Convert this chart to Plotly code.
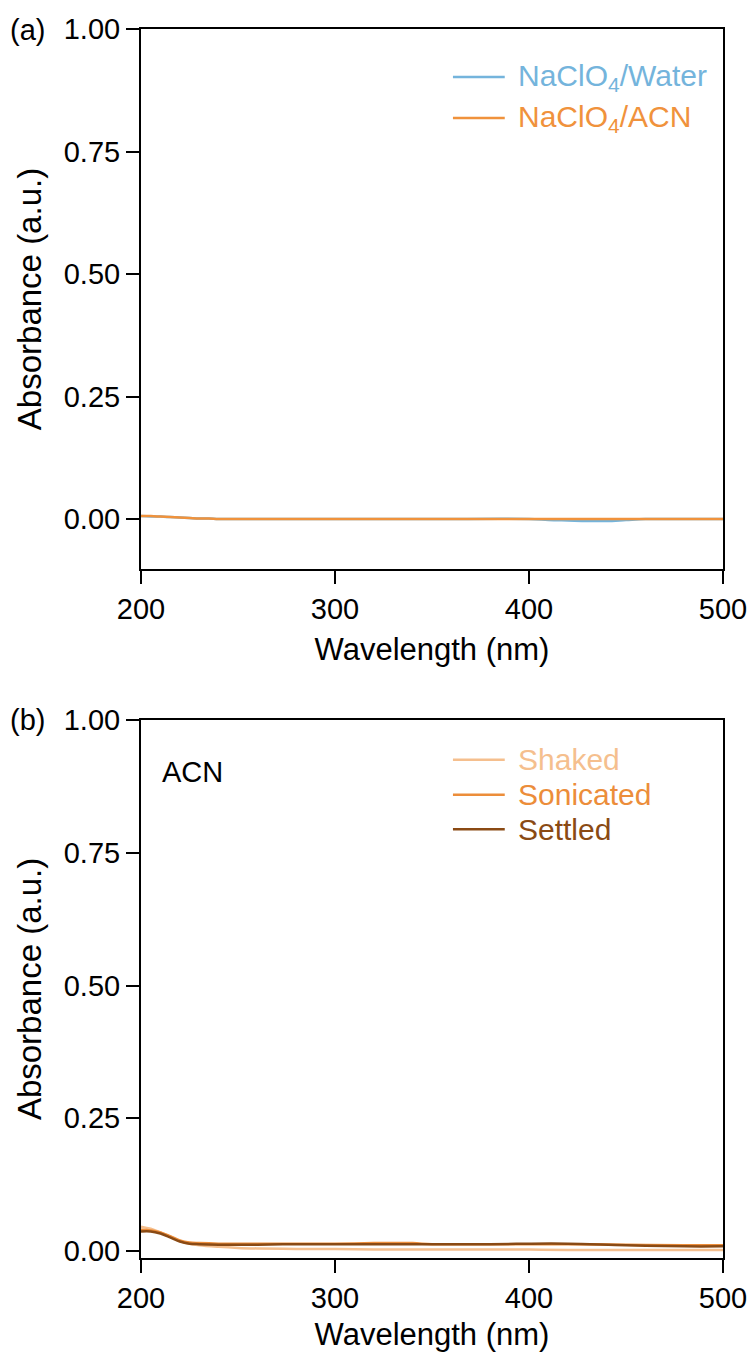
import plotly.graph_objects as go
from plotly.subplots import make_subplots

# ---- data -------------------------------------------------------------
# (a) NaClO4 in water vs acetonitrile
wl_a = [200, 205, 210, 215, 220, 225, 230, 235, 240, 250, 260, 280, 300, 350,
        400, 410, 420, 430, 440, 450, 460, 480, 500]
water = [0.006, 0.005, 0.005, 0.004, 0.003, 0.002, 0.001, 0.001, 0.000, 0.000,
         0.000, 0.000, 0.000, 0.000, 0.000, -0.002, -0.003, -0.004, -0.004,
         -0.002, 0.000, 0.000, 0.000]
acn = [0.006, 0.006, 0.005, 0.004, 0.003, 0.002, 0.001, 0.001, 0.000, 0.000,
       0.000, 0.000, 0.000, 0.000, 0.000, 0.000, 0.000, 0.000, 0.000, 0.000,
       0.000, 0.000, 0.000]

# (b) ACN samples after different treatments
wl_b = [200, 205, 210, 215, 220, 225, 230, 240, 250, 260, 280, 300, 320, 340,
        350, 380, 400, 420, 450, 480, 500]
shaked = [0.046, 0.042, 0.035, 0.027, 0.019, 0.014, 0.011, 0.008, 0.006, 0.005,
          0.004, 0.004, 0.003, 0.003, 0.003, 0.003, 0.003, 0.002, 0.002, 0.002,
          0.002]
sonicated = [0.040, 0.039, 0.035, 0.028, 0.020, 0.016, 0.015, 0.014, 0.014,
             0.014, 0.014, 0.014, 0.015, 0.015, 0.013, 0.013, 0.013, 0.013,
             0.012, 0.011, 0.011]
settled = [0.037, 0.037, 0.033, 0.026, 0.018, 0.014, 0.013, 0.012, 0.012, 0.012,
           0.013, 0.013, 0.013, 0.013, 0.013, 0.013, 0.014, 0.014, 0.011, 0.009,
           0.009]

x_ticks = [200, 300, 400, 500]
y_ticks = [0.00, 0.25, 0.50, 0.75, 1.00]

# ---- styling ----------------------------------------------------------
FONT = "Liberation Sans, Arial, sans-serif"
C_WATER = "#74B4DC"
C_ACN = "#F0923C"
C_SHAKED = "#F5BF8E"
C_SONIC = "#EC8D3A"
C_SETTLED = "#8A4A14"

fig = make_subplots(rows=2, cols=1, vertical_spacing=0.0)

fig.add_trace(go.Scatter(x=wl_a, y=water, mode="lines", line=dict(color=C_WATER, width=2.5, shape="spline"),
                         name="NaClO4/Water", showlegend=False), row=1, col=1)
fig.add_trace(go.Scatter(x=wl_a, y=acn, mode="lines", line=dict(color=C_ACN, width=2.5, shape="spline"),
                         name="NaClO4/ACN", showlegend=False), row=1, col=1)

fig.add_trace(go.Scatter(x=wl_b, y=shaked, mode="lines", line=dict(color=C_SHAKED, width=2.5, shape="spline"),
                         name="Shaked", showlegend=False), row=2, col=1)
fig.add_trace(go.Scatter(x=wl_b, y=sonicated, mode="lines", line=dict(color=C_SONIC, width=2.5, shape="spline"),
                         name="Sonicated", showlegend=False), row=2, col=1)
fig.add_trace(go.Scatter(x=wl_b, y=settled, mode="lines", line=dict(color=C_SETTLED, width=2.5, shape="spline"),
                         name="Settled", showlegend=False), row=2, col=1)

axis_common = dict(showline=True, linecolor="black", linewidth=2, mirror=True,
                   ticks="outside", ticklen=13, tickwidth=2, tickcolor="black",
                   showgrid=False, zeroline=False, automargin=False,
                   tickfont=dict(family=FONT, size=29, color="black"))

for r in (1, 2):
    fig.update_xaxes(range=[200, 500], tickvals=x_ticks, ticktext=[str(v) for v in x_ticks],
                     title=dict(text="Wavelength (nm)", font=dict(family=FONT, size=31, color="black"),
                                standoff=14),
                     row=r, col=1, **axis_common)
    fig.update_yaxes(tickvals=y_ticks, ticktext=[f"{v:.2f}" for v in y_ticks],
                     title=dict(text="Absorbance (a.u.)", font=dict(family=FONT, size=33, color="black"),
                                standoff=12),
                     row=r, col=1, **axis_common)

fig.update_yaxes(range=[-0.102, 1.0], row=1, col=1)
fig.update_yaxes(range=[-0.013, 1.0], row=2, col=1)

# panel placement
fig.update_layout(
    xaxis=dict(domain=[0, 1]), xaxis2=dict(domain=[0, 1]),
    yaxis=dict(domain=[0.5606, 1.0]), yaxis2=dict(domain=[0.0, 0.4378]),
)

# ---- hand-made legends -------------------------------------------------
shapes = []
annotations = []

def legend_entry(xref, yref, y, color, text):
    shapes.append(dict(type="line", xref=xref, yref=yref, x0=0.536, x1=0.625, y0=y, y1=y,
                       line=dict(color=color, width=2.5)))
    annotations.append(dict(xref=xref, yref=yref, x=0.645, y=y, xanchor="left", yanchor="middle",
                            text=text, showarrow=False,
                            font=dict(family=FONT, size=30, color=color)))

legend_entry("x domain", "y domain", 0.911, C_WATER, "NaClO<sub>4</sub>/Water")
legend_entry("x domain", "y domain", 0.835, C_ACN, "NaClO<sub>4</sub>/ACN")
legend_entry("x2 domain", "y2 domain", 0.926, C_SHAKED, "Shaked")
legend_entry("x2 domain", "y2 domain", 0.861, C_SONIC, "Sonicated")
legend_entry("x2 domain", "y2 domain", 0.797, C_SETTLED, "Settled")

annotations.append(dict(xref="x2 domain", yref="y2 domain", x=0.033, y=0.903, xanchor="left",
                        yanchor="middle", text="ACN", showarrow=False,
                        font=dict(family=FONT, size=29, color="black")))

# panel letters
annotations.append(dict(xref="paper", yref="paper", x=-0.2285, y=0.9992, xanchor="left",
                        yanchor="middle", text="(a)", showarrow=False,
                        font=dict(family=FONT, size=29, color="black")))
annotations.append(dict(xref="paper", yref="paper", x=-0.2285, y=0.4378, xanchor="left",
                        yanchor="middle", text="(b)", showarrow=False,
                        font=dict(family=FONT, size=29, color="black")))

fig.update_layout(
    width=751, height=1352,
    margin=dict(l=141, r=28, t=29, b=94),
    paper_bgcolor="white", plot_bgcolor="white",
    shapes=shapes, annotations=annotations,
    showlegend=False,
)

fig.write_html("out.html")
